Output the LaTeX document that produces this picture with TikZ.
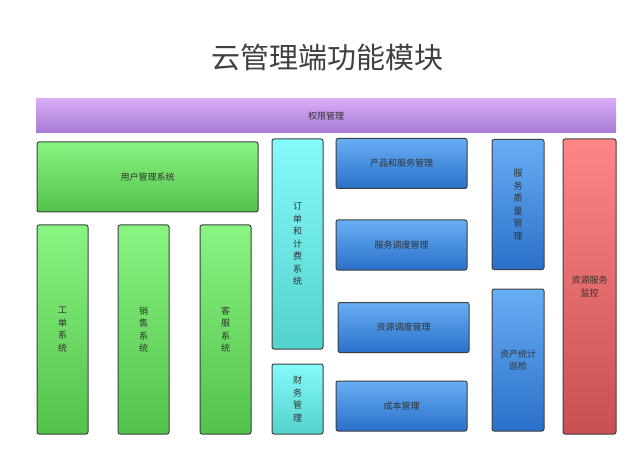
\documentclass[tikz,border=0pt]{standalone}
\usepackage{fontspec}
\setmainfont{Noto Sans CJK SC}
\usetikzlibrary{shapes}
\definecolor{grtop}{RGB}{138,244,130}
\definecolor{grbot}{RGB}{82,194,74}
\definecolor{cytop}{RGB}{132,250,250}
\definecolor{cybot}{RGB}{84,210,204}
\definecolor{bltop}{RGB}{104,174,244}
\definecolor{blbot}{RGB}{42,112,202}
\definecolor{rdtop}{RGB}{255,134,134}
\definecolor{rdbot}{RGB}{200,80,80}
\definecolor{putop}{RGB}{216,172,246}
\definecolor{pubot}{RGB}{166,122,212}
\definecolor{boxline}{RGB}{60,64,64}
\definecolor{boxtext}{RGB}{50,50,50}
\tikzstyle{module}=[rectangle,rounded corners=2pt,draw=boxline,line width=1pt,inner sep=0pt,text=boxtext,align=center,font=\fontsize{9}{12.5}\selectfont]
\tikzstyle{greenbox}=[module,top color=grtop,bottom color=grbot]
\tikzstyle{cyanbox}=[module,top color=cytop,bottom color=cybot]
\tikzstyle{bluebox}=[module,top color=bltop,bottom color=blbot]
\tikzstyle{redbox}=[module,top color=rdtop,bottom color=rdbot]
\tikzstyle{permbar}=[rectangle,inner sep=0pt,top color=putop,bottom color=pubot,text=boxtext,font=\fontsize{9}{12}\selectfont]
\tikzstyle{title}=[font=\fontsize{29}{34}\selectfont,text=black!75]

\begin{document}
\begin{tikzpicture}[x=1pt,y=-1pt]

    \useasboundingbox (0,0) rectangle (640,457);

    \node[title] (head) at (327,57) {云管理端功能模块};

    \node[permbar, minimum width=580pt, minimum height=34pt] (perm) at (326,116) {权限管理};

    \node[greenbox, minimum width=221pt, minimum height=70pt] (user) at (147.5,177) {用户管理系统};

    \foreach \x/\name/\label in {62.5/gongdan/{工\\单\\系\\统}, 143.5/xiaoshou/{销\\售\\系\\统}, 225.5/kefu/{客\\服\\系\\统}}
        \node[greenbox, minimum width=51pt, minimum height=209pt] (\name) at (\x,329.5) {\label};

    \node[cyanbox, minimum width=51pt, minimum height=210pt] (order) at (297.5,244) {订\\单\\和\\计\\费\\系\\统};
    \node[cyanbox, minimum width=51pt, minimum height=70pt] (finance) at (297.5,399) {财\\务\\管\\理};

    \foreach \x/\y/\name/\label in {401.5/163.5/product/{产品和服务管理}, 401.5/245/svcsched/{服务调度管理}, 403.5/327.5/ressched/{资源调度管理}, 401.5/406/cost/{成本管理}}
        \node[bluebox, minimum width=131pt, minimum height=50pt] (\name) at (\x,\y) {\label};

    \node[bluebox, minimum width=52pt, minimum height=130pt] (quality) at (518,204.5) {服\\务\\质\\量\\管\\理};
    \node[bluebox, minimum width=52pt, minimum height=142pt] (asset) at (518,360) {资产统计\\巡检};

    \node[redbox, minimum width=53pt, minimum height=295pt] (monitor) at (589.5,286.5) {资源服务\\监控};

\end{tikzpicture}
\end{document}
